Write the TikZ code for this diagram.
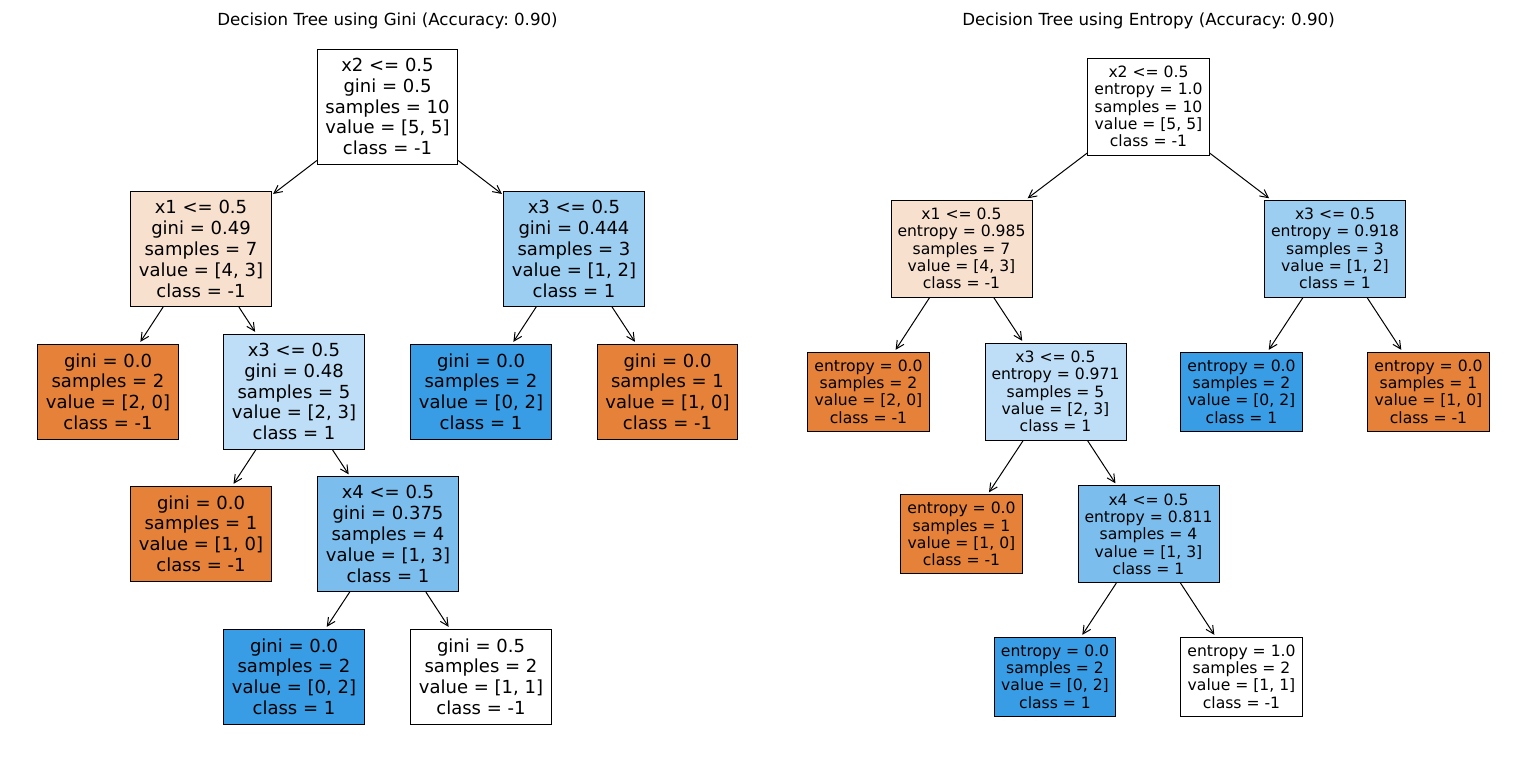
\documentclass[tikz,border=0pt]{standalone}
\usepackage{fontspec}
\setmainfont{DejaVu Sans}
\usetikzlibrary{arrows.meta}
\frenchspacing
\definecolor{negfull}{HTML}{E58139}
\definecolor{negpale}{HTML}{F8E0CE}
\definecolor{posfull}{HTML}{399DE5}
\definecolor{posmid}{HTML}{7BBEEE}
\definecolor{poshalf}{HTML}{9CCEF2}
\definecolor{pospale}{HTML}{BDDEF6}

\begin{document}
\begin{tikzpicture}[x=0.5pt,y=-0.5pt,line width=0.5pt,
  box/.style={draw,rectangle,align=center,inner xsep=4pt,inner ysep=1pt},
  gin/.style={box,font=\fontsize{9pt}{10.4pt}\selectfont},
  gsplit/.style={gin,minimum height=57.5pt},
  gleaf/.style={gin,minimum height=47.5pt},
  ent/.style={box,inner xsep=3.25pt,font=\fontsize{7.8pt}{8.67pt}\selectfont},
  esplit/.style={ent,minimum height=48.5pt},
  eleaf/.style={ent,minimum height=39.5pt},
  edge/.style={-{Straight Barb[length=4pt,width=4pt]},shorten >=1pt},
  heading/.style={font=\fontsize{8.33pt}{10pt}\selectfont}]
\useasboundingbox (0,0) rectangle (1536,762);
% gini tree
\node[heading] (gtitle) at (387.5,21) {Decision Tree using Gini (Accuracy: 0.90)};
\node[gsplit] (groot) at (387.5,106.5) {x2 <= 0.5\\gini = 0.5\\samples = 10\\value = [5, 5]\\class = -1};
\node[gsplit,fill=negpale] (gx1) at (201,249) {x1 <= 0.5\\gini = 0.49\\samples = 7\\value = [4, 3]\\class = -1};
\node[gsplit,fill=poshalf] (gx3) at (574,249) {x3 <= 0.5\\gini = 0.444\\samples = 3\\value = [1, 2]\\class = 1};
\node[gleaf,fill=negfull] (gleafa) at (108,391.5) {gini = 0.0\\samples = 2\\value = [2, 0]\\class = -1};
\node[gsplit,fill=pospale] (gx3b) at (294,391.5) {x3 <= 0.5\\gini = 0.48\\samples = 5\\value = [2, 3]\\class = 1};
\node[gleaf,fill=posfull] (gleafb) at (481,391.5) {gini = 0.0\\samples = 2\\value = [0, 2]\\class = 1};
\node[gleaf,fill=negfull] (gleafc) at (667.5,391.5) {gini = 0.0\\samples = 1\\value = [1, 0]\\class = -1};
\node[gleaf,fill=negfull] (gleafd) at (201,533.5) {gini = 0.0\\samples = 1\\value = [1, 0]\\class = -1};
\node[gsplit,fill=posmid] (gx4) at (388,534) {x4 <= 0.5\\gini = 0.375\\samples = 4\\value = [1, 3]\\class = 1};
\node[gleaf,fill=posfull] (gleafe) at (294,676.5) {gini = 0.0\\samples = 2\\value = [0, 2]\\class = 1};
\node[gleaf] (gleaff) at (481,676.5) {gini = 0.5\\samples = 2\\value = [1, 1]\\class = -1};
\draw[edge] (groot) -- (gx1);
\draw[edge] (groot) -- (gx3);
\draw[edge] (gx1) -- (gleafa);
\draw[edge] (gx1) -- (gx3b);
\draw[edge] (gx3) -- (gleafb);
\draw[edge] (gx3) -- (gleafc);
\draw[edge] (gx3b) -- (gleafd);
\draw[edge] (gx3b) -- (gx4);
\draw[edge] (gx4) -- (gleafe);
\draw[edge] (gx4) -- (gleaff);
% entropy tree
\node[heading] (etitle) at (1148.5,21) {Decision Tree using Entropy (Accuracy: 0.90)};
\node[esplit] (eroot) at (1148.5,106.5) {x2 <= 0.5\\entropy = 1.0\\samples = 10\\value = [5, 5]\\class = -1};
\node[esplit,fill=negpale] (ex1) at (961.5,248.5) {x1 <= 0.5\\entropy = 0.985\\samples = 7\\value = [4, 3]\\class = -1};
\node[esplit,fill=poshalf] (ex3) at (1335,248.5) {x3 <= 0.5\\entropy = 0.918\\samples = 3\\value = [1, 2]\\class = 1};
\node[eleaf,fill=negfull] (eleafa) at (868.5,391.5) {entropy = 0.0\\samples = 2\\value = [2, 0]\\class = -1};
\node[esplit,fill=pospale] (ex3b) at (1055.5,391.5) {x3 <= 0.5\\entropy = 0.971\\samples = 5\\value = [2, 3]\\class = 1};
\node[eleaf,fill=posfull] (eleafb) at (1241.5,391.5) {entropy = 0.0\\samples = 2\\value = [0, 2]\\class = 1};
\node[eleaf,fill=negfull] (eleafc) at (1428.5,391.5) {entropy = 0.0\\samples = 1\\value = [1, 0]\\class = -1};
\node[eleaf,fill=negfull] (eleafd) at (961.5,534) {entropy = 0.0\\samples = 1\\value = [1, 0]\\class = -1};
\node[esplit,fill=posmid] (ex4) at (1148.5,534) {x4 <= 0.5\\entropy = 0.811\\samples = 4\\value = [1, 3]\\class = 1};
\node[eleaf,fill=posfull] (eleafe) at (1055,676.5) {entropy = 0.0\\samples = 2\\value = [0, 2]\\class = 1};
\node[eleaf] (eleaff) at (1241.5,676.5) {entropy = 1.0\\samples = 2\\value = [1, 1]\\class = -1};
\draw[edge] (eroot) -- (ex1);
\draw[edge] (eroot) -- (ex3);
\draw[edge] (ex1) -- (eleafa);
\draw[edge] (ex1) -- (ex3b);
\draw[edge] (ex3) -- (eleafb);
\draw[edge] (ex3) -- (eleafc);
\draw[edge] (ex3b) -- (eleafd);
\draw[edge] (ex3b) -- (ex4);
\draw[edge] (ex4) -- (eleafe);
\draw[edge] (ex4) -- (eleaff);
\end{tikzpicture}
\end{document}
